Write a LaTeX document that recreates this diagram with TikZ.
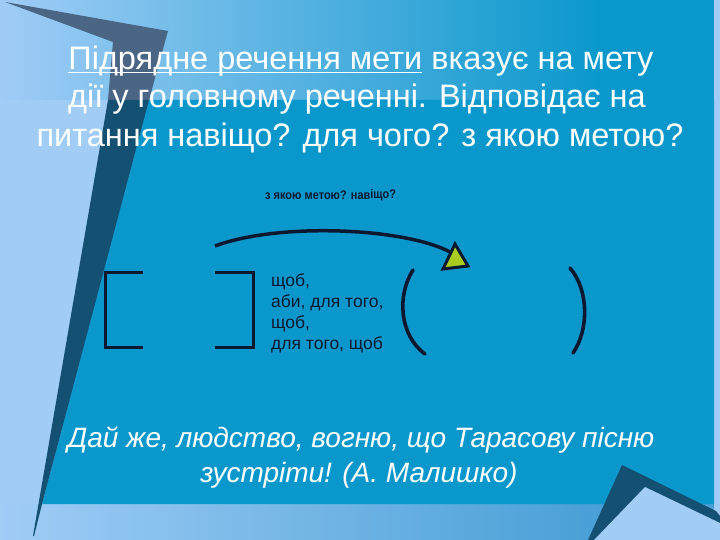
\documentclass[tikz,border=0pt]{standalone}
\usepackage{fontspec}
\setmainfont{Liberation Sans}
\usetikzlibrary{shapes.geometric}
\definecolor{lightbg}{RGB}{160,204,246}
\definecolor{mainblue}{RGB}{10,152,204}
\definecolor{midblue}{RGB}{72,160,214}
\definecolor{grayshade}{RGB}{75,101,133}
\definecolor{darkstrip}{RGB}{20,80,114}
\definecolor{navy}{RGB}{12,24,48}
\definecolor{arrowgreen}{RGB}{168,204,32}
\newcommand{\myul}[1]{\setbox0\hbox{#1}\rlap{\rule[-3.5pt]{\wd0}{1.8pt}}\box0\relax}
\tikzset{
  titletext/.style={text=white, font=\fontsize{32.5}{38}\selectfont, inner sep=0pt},
  quotetext/.style={text=white, font=\fontsize{28}{34}\selectfont\itshape, inner sep=0pt},
  listtext/.style={text=navy, font=\fontsize{17.5}{21}\selectfont, align=left, inner sep=0pt},
  smalllabel/.style={text=navy, font=\fontsize{12.5}{14}\selectfont\bfseries, inner sep=0pt, xscale=0.88},
  bracketline/.style={draw=navy, line width=3pt},
  parenline/.style={draw=navy, line width=3.6pt, line cap=round},
  arcline/.style={draw=navy, line width=3.5pt},
}
\begin{document}
\begin{tikzpicture}[x=1pt,y=-1pt]
\useasboundingbox (0,0) rectangle (720,540);
% background
\fill[lightbg] (0,0) rectangle (720,540);
\shade[left color=lightbg, right color=mainblue] (0,0) rectangle (600,100);
\fill[mainblue] (600,0) rectangle (714,100);
\shade[left color=lightbg, right color=midblue] (0,504) rectangle (600,540);
\fill[midblue] (600,504) rectangle (714,540);
% main blue panel
\fill[mainblue] (148,100) -- (714,100) -- (714,504) -- (42,504) -- cycle;
% dark folds
\fill[grayshade] (5,2) -- (168,31) -- (149,100) -- (108,100) -- (113,42) -- cycle;
\fill[darkstrip] (108,100) -- (149,100) -- (42,504) -- (34,536) -- (33,536) -- cycle;
\fill[darkstrip] (588,540) -- (622,465) -- (716,511) -- (720,516) -- (720,540) -- cycle;
\fill[lightbg] (594,540) -- (645,487) -- (720,523) -- (720,540) -- cycle;
% title
\node[titletext, anchor=base] (t1) at (361,70) {\myul{Підрядне речення мети} вказує на мету};
\node[titletext, anchor=base] (t2) at (357,108) {дії у головному реченні. Відповідає на};
\node[titletext, anchor=base] (t3) at (360,147) {питання навіщо? для чого? з якою метою?};
% question label
\node[smalllabel, anchor=base west, rotate=0.5] (q) at (265,200) {з якою метою? навіщо?};
% arc with triangle head
\coordinate (arcstart) at (215,246);
\coordinate (arcend) at (450,252);
\draw[arcline] (arcstart) .. controls (280,222) and (405,228) .. (arcend);
\filldraw[fill=arrowgreen, draw=navy, line width=3pt, line join=miter] (455,244) -- (468,266) -- (443,269) -- cycle;
% brackets
\draw[bracketline] (143,272) -- (105,272) -- (105,347) -- (143,347);
\draw[bracketline] (215,272) -- (253,272) -- (253,347) -- (215,347);
% conjunction list
\node[listtext, anchor=north west] (list) at (271,273) {щоб,\\аби, для того,\\щоб,\\для того, щоб};
% parentheses
\draw[parenline] (413,270) .. controls (397,295) and (399,335) .. (425,354);
\draw[parenline] (570,268) .. controls (589,290) and (589,330) .. (573,353);
% quote
\node[quotetext, anchor=base] (qt1) at (361,447) {Дай же, людство, вогню, що Тарасову пісню};
\node[quotetext, anchor=base] (qt2) at (359,482) {зустріти! (А. Малишко)};
\end{tikzpicture}
\end{document}
